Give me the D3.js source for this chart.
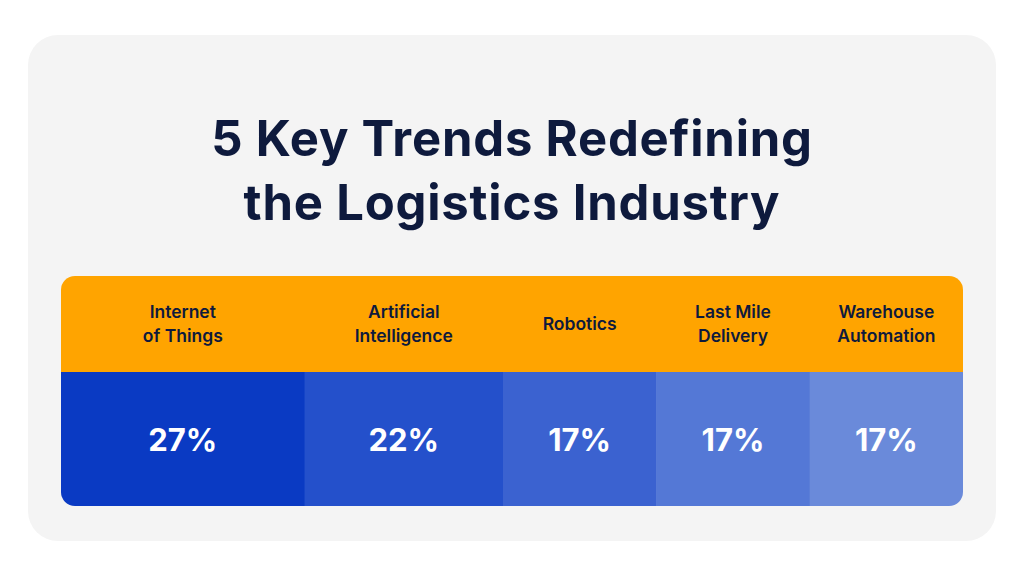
<!DOCTYPE html>
<html><head><meta charset="utf-8">
<script src="https://cdn.jsdelivr.net/npm/d3@7"></script>
<style>body{margin:0;background:#fff}svg{display:block}</style>
</head><body><svg id="c" width="1024" height="576"></svg>
<script>
const categories = [["Internet","of Things"],["Artificial","Intelligence"],["Robotics"],["Last Mile","Delivery"],["Warehouse","Automation"]];
const values = [27,22,17,17,17];
const colors = ["#0a3ac3","#2450cb","#3b62d0","#5478d6","#6a8ada"];
const titleLines = ["5 Key Trends Redefining","the Logistics Industry"];

const svg = d3.select("#c");
const F = "Inter, 'DejaVu Sans', sans-serif";
svg.append("rect").attr("x",28).attr("y",35).attr("width",968).attr("height",506).attr("rx",30).attr("fill","#f4f4f4");
svg.selectAll("text.t").data(titleLines).join("text").attr("class","t")
  .attr("x",512).attr("y",(d,i)=>156+i*64).attr("text-anchor","middle")
  .attr("font-family",F).attr("font-weight",700).attr("font-size",49).attr("letter-spacing",0.8).attr("fill","#0e1a3d").text(d=>d);

const x0=61,x1=963,yH=276,yB=372,yE=506;
const cum=[0]; values.forEach(v=>cum.push(cum[cum.length-1]+v));
const x=d3.scaleLinear().domain([0,d3.sum(values)]).range([x0,x1]);
const defs=svg.append("defs");
defs.append("clipPath").attr("id","cl").append("rect").attr("x",x0).attr("y",yH).attr("width",x1-x0).attr("height",yE-yH).attr("rx",14);
const g=svg.append("g").attr("clip-path","url(#cl)");
g.append("rect").attr("x",x0).attr("y",yH).attr("width",x1-x0).attr("height",yB-yH).attr("fill","#ffa400");
g.selectAll("rect.b").data(values).join("rect").attr("class","b")
  .attr("x",(d,i)=>x(cum[i])).attr("y",yB).attr("width",d=>x(d)-x(0)+0.5).attr("height",yE-yB)
  .attr("fill",(d,i)=>colors[i]);
values.forEach((v,i)=>{
  const cx=(x(cum[i])+x(cum[i+1]))/2;
  const lines=categories[i];
  lines.forEach((l,j)=>{
    svg.append("text").attr("x",cx).attr("y",(yH+yB)/2+6+(j-(lines.length-1)/2)*24)
      .attr("text-anchor","middle").attr("font-family",F).attr("font-weight",600).attr("font-size",17.5)
      .attr("fill","#0e1a3d").text(l);
  });
  svg.append("text").attr("x",cx).attr("y",451).attr("text-anchor","middle")
    .attr("font-family",F).attr("font-weight",700).attr("font-size",31).attr("fill","#fff").text(v+"%");
});
</script></body></html>
